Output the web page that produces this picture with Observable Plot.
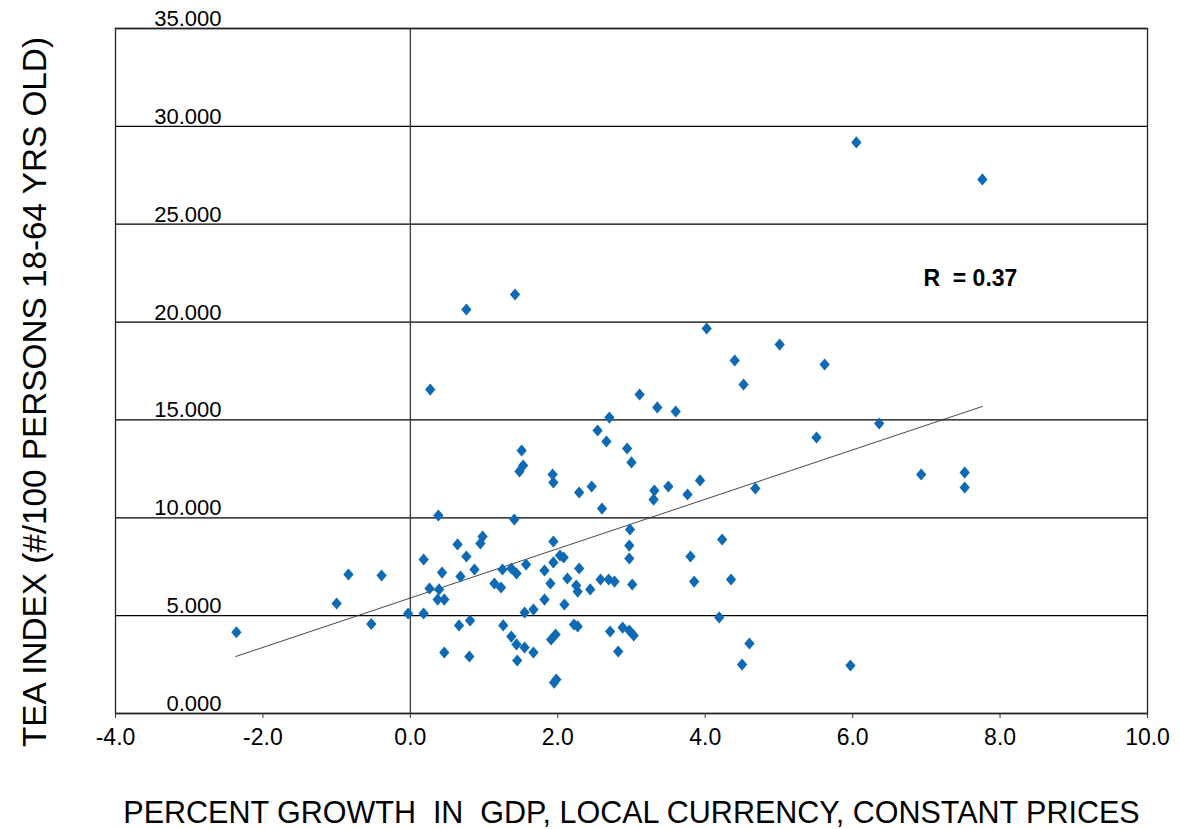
<!DOCTYPE html>
<html>
<head>
<meta charset="utf-8">
<script src="https://cdn.jsdelivr.net/npm/d3@7"></script>
<script src="https://cdn.jsdelivr.net/npm/@observablehq/plot@0.6"></script>
<style>
  html, body { margin: 0; padding: 0; background: #fff; }
  #chart { width: 1180px; height: 829px; }
</style>
</head>
<body>
<div id="chart"></div>
<script>
// GDP growth (%) per country
const gdpGrowth = [
  -2.36, -1.00, -0.84, -0.39, -0.53, -0.03, 0.18, 0.38, 0.18, 0.43,
  0.26, 0.39, 0.37, 0.46, 0.46,
  1.41, 0.98, 0.95, 0.64, 0.76, 0.87, 0.68, 1.25, 1.37, 1.44, 1.57, 1.14, 1.23,
  1.94, 2.29, 2.46, 3.31, 3.30, 3.50, 3.76, 2.60, 2.98, 2.97, 2.97,
  1.94, 2.03, 2.08, 1.94, 1.82, 2.29, 2.13, 2.25, 2.27, 2.44, 2.58, 2.69, 2.77, 3.01,
  1.90, 1.82, 2.09, 1.55, 1.67, 0.66, 0.81, 1.26, 1.37, 1.44, 1.55, 1.67, 1.45, 0.80,
  1.97, 1.91, 2.22, 2.27, 2.71, 2.88, 2.97, 3.03, 2.82, 1.98, 1.95, 3.80,
  5.51, 6.36, 3.93, 4.68, 6.93, 7.52, 7.52, 4.23, 3.85, 4.35, 4.19, 4.60, 4.50, 5.97,
  1.42, 0.76, 4.02, 4.40, 4.52, 0.27, 3.11, 3.35, 3.60, 2.70, 2.54, 2.66, 2.94, 3.00,
  1.51, 1.53, 1.48, 1.93,
  6.05, 7.76, 5.01, 5.62
];
// TEA index (#/100 persons 18-64 yrs old)
const teaIndex = [
  4.15, 5.62, 7.10, 7.05, 4.57, 5.11, 5.11, 10.12, 7.87, 7.20,
  6.39, 6.34, 5.82, 5.82, 3.12,
  9.91, 9.04, 8.69, 8.64, 8.02, 7.36, 7.00, 7.36, 7.41, 7.15, 7.61, 6.64, 6.44,
  11.80, 11.29, 11.60, 11.39, 10.93, 11.60, 11.19, 10.47, 9.40, 8.58, 7.92,
  8.79, 8.07, 7.97, 7.72, 7.31, 7.41, 6.90, 6.54, 6.23, 6.34, 6.85, 6.85, 6.74, 6.59,
  6.64, 5.82, 5.57, 5.16, 5.31, 4.50, 4.75, 4.50, 3.93, 3.53, 3.37, 3.12, 2.71, 2.91,
  4.04, 3.78, 4.55, 4.45, 4.19, 4.39, 4.24, 3.99, 3.17, 1.74, 1.58, 8.02,
  14.10, 14.82, 11.91, 11.50, 12.21, 12.31, 11.55, 8.89, 6.74, 6.85, 4.91, 3.58, 2.50, 2.45,
  21.41, 20.64, 19.67, 18.04, 16.81, 16.55, 16.30, 15.64, 15.43, 15.12, 14.46, 13.90, 13.54, 12.83,
  13.44, 12.67, 12.37, 12.21,
  29.18, 27.29, 18.85, 17.83
];
// Trend line end points (as drawn)
const trendX = [-2.37, 7.76];
const trendY = [2.91, 15.69];
// Axis ticks
const xTicks = [-4, -2, 0, 2, 4, 6, 8, 10];
const yTicks = [0, 5, 10, 15, 20, 25, 30, 35];
// Text
const xTitle = "PERCENT GROWTH  IN  GDP, LOCAL CURRENCY, CONSTANT PRICES";
const yTitle = "TEA INDEX (#/100 PERSONS 18-64 YRS OLD)";
const rLabel = ["R  = 0.37"];
const rLabelX = [6.96];
const rLabelY = [21.82];

const points = gdpGrowth.map((x, i) => ({x, y: teaIndex[i]}));
const trend = trendX.map((x, i) => ({x, y: trendY[i]}));
const rNote = rLabel.map((t, i) => ({t, x: rLabelX[i], y: rLabelY[i]}));

const diamond = {
  draw(ctx, size) {
    const s = Math.sqrt(size);
    const w = s * 0.57, h = s * 0.67;
    ctx.moveTo(0, -h);
    ctx.lineTo(w, 0);
    ctx.lineTo(0, h);
    ctx.lineTo(-w, 0);
    ctx.closePath();
  }
};

const FONT = "'Liberation Sans', Arial, Helvetica, sans-serif";

const chart = Plot.plot({
  width: 1180,
  height: 829,
  marginLeft: 115,
  marginRight: 33,
  marginTop: 28,
  marginBottom: 116,
  style: {fontFamily: FONT, background: "#fff", color: "#000"},
  x: {domain: [-4, 10]},
  y: {domain: [0, 35]},
  marks: [
    Plot.ruleY(yTicks, {stroke: "#000", strokeWidth: 1.3}),
    Plot.ruleX([0], {stroke: "#444", strokeWidth: 1.4}),
    Plot.frame({stroke: "#222", strokeWidth: 1.3}),
    Plot.axisX(xTicks, {
      tickSize: 5, tickPadding: 10, fontSize: 23, label: null,
      stroke: "#333", tickFormat: d => d.toFixed(1)
    }),
    Plot.axisY(yTicks, {
      tickSize: 0, tickPadding: 0, dx: 106, dy: -9.5, textAnchor: "end",
      fontSize: 22, label: null, tickFormat: d => d.toFixed(3)
    }),
    Plot.line(trend, {x: "x", y: "y", stroke: "#333", strokeWidth: 0.9}),
    Plot.dot(points, {x: "x", y: "y", symbol: diamond, r: 5.1, fill: "#0e6ab4", stroke: "none"}),
    Plot.text(rNote, {x: "x", y: "y", text: "t", textAnchor: "start", lineAnchor: "bottom",
      fontSize: 23, fontWeight: "bold", fill: "#000"}),
    Plot.text([xTitle], {frameAnchor: "bottom", textAnchor: "middle", lineAnchor: "bottom", dy: 109,
      fontSize: 30.5, fill: "#000"}),
    Plot.text([yTitle], {frameAnchor: "left", textAnchor: "middle", lineAnchor: "bottom", rotate: -90,
      dx: -70, dy: 21, fontSize: 33.3, fill: "#000"})
  ]
});

document.getElementById("chart").appendChild(chart);
</script>
</body>
</html>
